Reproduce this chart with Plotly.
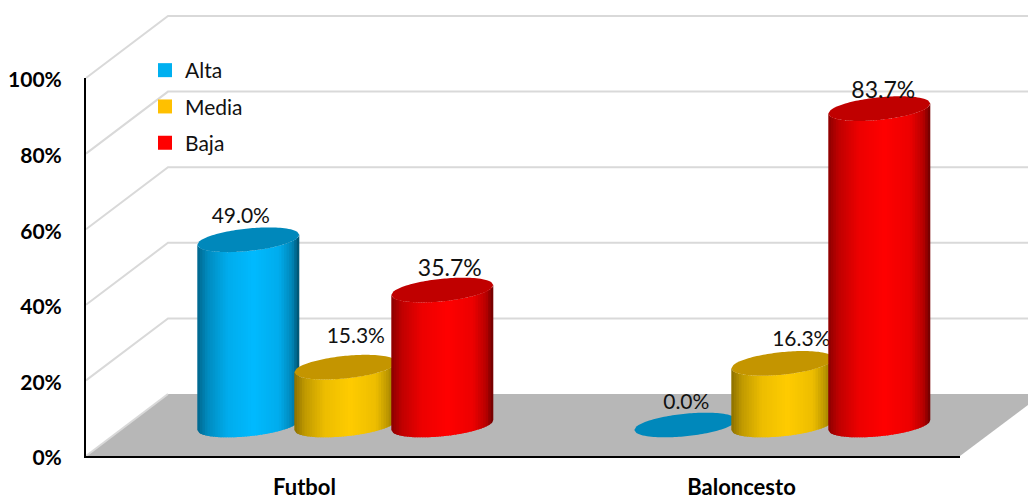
import plotly.graph_objects as go

categories = ["Futbol", "Baloncesto"]
series_names = ["Alta", "Media", "Baja"]
alta = [49.0, 0.0]
media = [15.3, 16.3]
baja = [35.7, 83.7]
y_ticks = [0, 20, 40, 60, 80, 100]
y_tick_labels = ["0%", "20%", "40%", "60%", "80%", "100%"]

FONT = "Lato"
W, H = 1028, 495
AX_L, AX_R, AX_T, AX_B = 86, 960, 78, 456  # pixels of the visible axes frame
PX_X = 2 / (AX_R - AX_L)                 # x data units per pixel
PX_Y = 100 / (AX_B - AX_T)               # y data units per pixel

DEPTH_X, DEPTH_Y = 82 * PX_X, 62 * PX_Y      # full floor depth
MID_X, MID_Y = 40.8 * PX_X, 31 * PX_Y        # cylinder axis depth
SPACING = 97 * PX_X
RAD_X = 51 * PX_X
TILT = 5 * PX_Y
RAD_Y = 11.3 * PX_Y
X_LEFT, X_RIGHT_AXIS = -0.5, 1.5
X_WALL_END = X_LEFT + (W - AX_L) * PX_X
MAIN_X_RANGE = [X_LEFT - AX_L * PX_X, X_WALL_END]
MAIN_Y_RANGE = [-(H - AX_B) * PX_Y, AX_B * PX_Y]

legend_colors = ["#00B0F0", "#FFC000", "#FF0000"]
body_colors = [(0, 186, 255), (255, 204, 0), (255, 0, 0)]
cap_colors = ["#0088BB", "#C49500", "#C00000"]
GRID = "#D9D9D9"
FLOOR = "#B7B7B7"
SHADE = [(0, .55), (.1, .75), (.3, .93), (.55, 1.0), (.8, .93), (.93, .72), (1, .42)]
STRIPS = 40

# label offsets from the cap centre, px (dx, dy) for [series][category]
label_off = [[(-7.5, 22.5), (1, 21.5)], [(10.5, 29.5), (19, 23)], [(7.5, 20), (4, 16)]]
label_size = [[21, 21], [21, 21], [23, 23]]

fig = go.Figure()


def add_poly(xs, ys, color):
    fig.add_trace(go.Scatter(x=xs, y=ys, mode="lines", fill="toself", fillcolor=color,
                             line=dict(width=0, color=color, simplify=False), hoverinfo="skip",
                             showlegend=False))


def shade_at(t):
    for (a, fa), (b, fb) in zip(SHADE, SHADE[1:]):
        if t <= b:
            return fa + (fb - fa) * (t - a) / (b - a)
    return SHADE[-1][1]


def lower_arc(u, cx, cy):
    return cx + u * RAD_X, cy + u * TILT - RAD_Y * max(0.0, 1 - u * u) ** 0.5


# back wall grid
for v in y_ticks[1:]:
    fig.add_trace(go.Scatter(x=[X_LEFT, X_LEFT + DEPTH_X, X_WALL_END], y=[v, v + DEPTH_Y, v + DEPTH_Y],
                             mode="lines", line=dict(color=GRID, width=2), hoverinfo="skip",
                             showlegend=False))

# floor
add_poly([X_LEFT, X_LEFT + DEPTH_X, X_WALL_END, X_WALL_END, X_RIGHT_AXIS, X_LEFT],
         [0, DEPTH_Y, DEPTH_Y, DEPTH_Y * 0.823, 0, 0], FLOOR)
fig.add_trace(go.Scatter(x=[X_LEFT + DEPTH_X, X_LEFT], y=[DEPTH_Y, 0], mode="lines",
                         line=dict(color=GRID, width=2), hoverinfo="skip", showlegend=False))

# cylinders
for c in range(len(categories)):
    for s, vals in enumerate([alta, media, baja]):
        v = vals[c]
        cx = c + MID_X + (s - 1) * SPACING
        cy0 = MID_Y
        cy1 = MID_Y + v
        if v > 0:
            for i in range(STRIPS):
                u0 = -1 + 2 * i / STRIPS
                u1 = min(1.0, u0 + 2 * 1.6 / STRIPS)
                us = [u0, (u0 + u1) / 2, u1]
                bot = [lower_arc(u, cx, cy0) for u in us]
                top = [lower_arc(u, cx, cy1) for u in reversed(us)]
                f = shade_at((i + .5) / STRIPS)
                r, g, b = [int(k * f) for k in body_colors[s]]
                add_poly([p[0] for p in bot + top] + [bot[0][0]],
                         [p[1] for p in bot + top] + [bot[0][1]], f"rgb({r},{g},{b})")
        n = 48
        xs, ys = [], []
        for i in range(n + 1):
            u = -1 + 2 * i / n
            x, y = lower_arc(u, cx, cy1)
            xs.append(x); ys.append(y)
        for i in range(n + 1):
            u = 1 - 2 * i / n
            xs.append(cx + u * RAD_X)
            ys.append(cy1 + u * TILT + RAD_Y * max(0.0, 1 - u * u) ** 0.5)
        add_poly(xs, ys, cap_colors[s])
        dx, dy = label_off[s][c]
        fig.add_trace(go.Scatter(x=[cx + dx * PX_X], y=[cy1 + dy * PX_Y], mode="text",
                                 text=[f"{v:.1f}%"], textposition="middle center",
                                 textfont=dict(family=FONT, size=label_size[s][c], color="#111111"),
                                 hoverinfo="skip", showlegend=False))

# legend entries (they also carry the visible axes)
for name, col in zip(series_names, legend_colors):
    fig.add_trace(go.Scatter(x=[None], y=[None], xaxis="x2", yaxis="y2", mode="markers", name=name,
                             legendgroup=name, marker=dict(symbol="square", size=14, color=col)))

fig.update_layout(
    width=W, height=H, autosize=False,
    margin=dict(l=0, r=0, t=0, b=0, pad=0, autoexpand=False),
    paper_bgcolor="white", plot_bgcolor="rgba(0,0,0,0)",
    font=dict(family=FONT, color="#000000"),
    xaxis=dict(domain=[0, 1], range=MAIN_X_RANGE, visible=False, fixedrange=True),
    yaxis=dict(domain=[0, 1], range=MAIN_Y_RANGE, visible=False, fixedrange=True),
    xaxis2=dict(domain=[AX_L / W, AX_R / W], range=[X_LEFT, X_RIGHT_AXIS], anchor="y2",
                tickmode="array", tickvals=list(range(len(categories))), ticktext=categories,
                showgrid=False, zeroline=False, showline=True, linecolor="#000000", linewidth=2,
                ticks="", ticklabelstandoff=11, fixedrange=True,
                tickfont=dict(family=FONT, size=22, weight="bold", color="#000000")),
    yaxis2=dict(domain=[(H - AX_B) / H, (H - AX_T) / H], range=[0, 100], anchor="x2",
                tickmode="array", tickvals=y_ticks, ticktext=y_tick_labels,
                showgrid=False, zeroline=False, showline=True, linecolor="#000000", linewidth=2,
                ticks="", ticklabelstandoff=18, ticklabelshift=2, fixedrange=True,
                tickfont=dict(family=FONT, size=21, weight="bold", color="#000000")),
    legend=dict(x=145 / W, y=1 - 50 / H, xanchor="left", yanchor="top",
                bgcolor="rgba(0,0,0,0)", tracegroupgap=6, font=dict(family=FONT, size=21, color="#111111"),
                itemclick=False, itemdoubleclick=False),
    showlegend=True,
)

fig.write_html("out.html", config={"displayModeBar": False},
               post_script="document.body.style.margin='0';")
